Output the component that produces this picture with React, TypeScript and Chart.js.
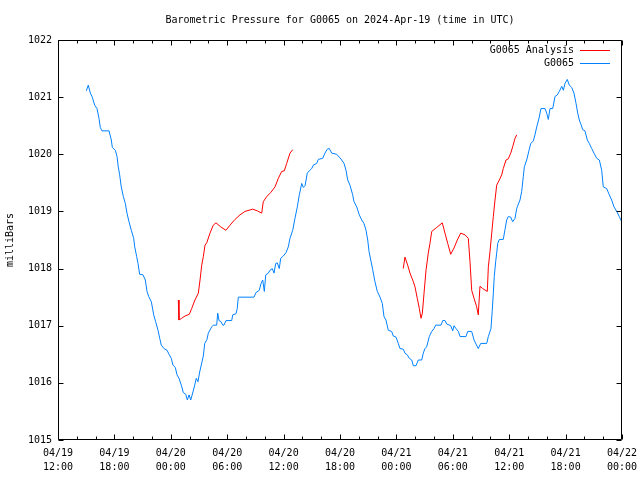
import React, { useEffect, useRef } from 'react';
import { Chart, registerables } from 'chart.js';

Chart.register(...registerables);

// Hours since 04/19 12:00 UTC
const stationHours = [
  3.01, 3.22, 3.44, 3.65, 3.90, 4.15, 4.36, 4.50, 4.68, 5.43, 5.67, 5.78, 6.10, 6.28, 6.41, 6.56, 6.73, 6.95,
  7.16, 7.34, 7.55, 7.80, 8.05, 8.16, 8.37, 8.51, 8.69, 9.04, 9.29, 9.47, 9.65, 9.93, 10.18, 10.39, 10.64,
  10.82, 10.99, 11.28, 11.60, 11.81, 12.05, 12.23, 12.48, 12.66, 12.87, 13.12, 13.33, 13.59, 13.76, 13.94,
  14.12, 14.36, 14.54, 14.71, 14.89, 15.07, 15.24, 15.46, 15.61, 15.85, 15.99, 16.35, 16.52, 16.88, 16.99,
  17.13, 17.34, 17.52, 17.66, 17.87, 18.48, 18.59, 18.94, 19.07, 19.18, 20.85, 21.06, 21.41, 21.60, 21.78,
  21.95, 22.10, 22.37, 22.55, 22.80, 22.98, 23.16, 23.33, 23.54, 23.69, 23.97, 24.26, 24.50, 24.68, 24.97,
  25.21, 25.46, 25.67, 25.93, 26.10, 26.28, 26.52, 26.73, 26.99, 27.16, 27.52, 27.69, 28.16, 28.40, 28.65,
  28.86, 29.12, 29.65, 29.93, 30.18, 30.43, 30.64, 30.82, 31.06, 31.35, 31.49, 31.78, 32.05, 32.31, 32.55,
  32.77, 32.95, 33.09, 33.27, 33.48, 33.72, 33.97, 34.26, 34.50, 34.68, 34.89, 35.14, 35.50, 35.67, 35.96,
  36.20, 36.38, 36.73, 36.91, 37.16, 37.37, 37.63, 37.80, 38.09, 38.33, 38.69, 38.86, 39.04, 39.22, 39.50,
  39.76, 40.00, 40.18, 40.74, 40.93, 41.17, 41.35, 41.78, 41.99, 42.13, 42.34, 42.59, 42.77, 43.40, 43.59,
  44.01, 44.26, 44.47, 44.71, 44.97, 45.61, 45.78, 46.06, 46.20, 46.31, 46.41, 46.56, 46.67, 46.78, 46.95,
  47.37, 47.55, 47.73, 47.90, 48.16, 48.37, 48.62, 48.80, 48.86, 49.15, 49.33, 49.50, 49.61, 49.86, 50.11,
  50.29, 50.56, 50.74, 50.93, 51.17, 51.38, 51.81, 51.99, 52.16, 52.34, 52.63, 52.87, 53.12, 53.33, 53.59,
  53.76, 53.94, 54.18, 54.39, 54.65, 54.89, 55.11, 55.29, 55.46, 55.64, 55.82, 56.06, 56.31, 56.52, 56.78,
  57.02, 57.31, 57.59, 57.84, 58.01, 58.37, 58.65, 58.90, 59.15, 59.44, 59.71, 59.97,
];

const stationValues = [
  1021.11, 1021.21, 1021.07, 1021.0, 1020.86, 1020.8, 1020.63, 1020.47, 1020.41, 1020.41, 1020.25, 1020.12,
  1020.07, 1019.96, 1019.78, 1019.64, 1019.43, 1019.26, 1019.14, 1018.97, 1018.82, 1018.67, 1018.53, 1018.38,
  1018.21, 1018.09, 1017.9, 1017.89, 1017.8, 1017.6, 1017.51, 1017.42, 1017.19, 1017.07, 1016.92, 1016.78,
  1016.66, 1016.6, 1016.57, 1016.5, 1016.43, 1016.31, 1016.27, 1016.14, 1016.08, 1015.96, 1015.83, 1015.8,
  1015.7, 1015.79, 1015.7, 1015.84, 1015.96, 1016.08, 1016.02, 1016.19, 1016.31, 1016.47, 1016.69, 1016.76,
  1016.87, 1016.98, 1017.01, 1017.01, 1017.22, 1017.09, 1017.07, 1017.01, 1017.01, 1017.09, 1017.09, 1017.19,
  1017.21, 1017.3, 1017.5, 1017.5, 1017.58, 1017.62, 1017.74, 1017.8, 1017.6, 1017.89, 1017.92, 1017.97,
  1018.0, 1017.92, 1018.09, 1018.1, 1018.0, 1018.18, 1018.22, 1018.28, 1018.38, 1018.53, 1018.67, 1018.88,
  1019.08, 1019.29, 1019.49, 1019.42, 1019.45, 1019.67, 1019.71, 1019.75, 1019.81, 1019.84, 1019.91, 1019.93,
  1020.02, 1020.09, 1020.1, 1020.02, 1020.0, 1019.95, 1019.9, 1019.84, 1019.72, 1019.55, 1019.46, 1019.29,
  1019.17, 1019.08, 1018.94, 1018.85, 1018.79, 1018.67, 1018.5, 1018.3, 1018.15, 1017.98, 1017.77, 1017.6,
  1017.5, 1017.39, 1017.16, 1017.1, 1016.92, 1016.9, 1016.82, 1016.8, 1016.69, 1016.6, 1016.59, 1016.52,
  1016.49, 1016.43, 1016.4, 1016.3, 1016.3, 1016.4, 1016.4, 1016.52, 1016.6, 1016.63, 1016.81, 1016.9,
  1016.95, 1017.01, 1017.01, 1017.09, 1017.09, 1017.03, 1017.0, 1016.91, 1017.0, 1016.95, 1016.9, 1016.81,
  1016.81, 1016.9, 1016.9, 1016.75, 1016.68, 1016.6, 1016.69, 1016.69, 1016.81, 1016.95, 1017.27, 1017.57,
  1017.86, 1018.12, 1018.27, 1018.44, 1018.51, 1018.51, 1018.68, 1018.85, 1018.91, 1018.9, 1018.82, 1018.88,
  1019.05, 1019.08, 1019.2, 1019.35, 1019.61, 1019.78, 1019.9, 1020.07, 1020.19, 1020.23, 1020.34, 1020.48,
  1020.63, 1020.8, 1020.8, 1020.72, 1020.61, 1020.8, 1020.8, 1021.01, 1021.04, 1021.1, 1021.19, 1021.12,
  1021.24, 1021.31, 1021.21, 1021.17, 1021.07, 1020.89, 1020.72, 1020.6, 1020.52, 1020.43, 1020.41, 1020.25,
  1020.19, 1020.1, 1020.02, 1019.93, 1019.9, 1019.72, 1019.43, 1019.4, 1019.29, 1019.2, 1019.08, 1019.0,
  1018.91, 1018.82,
];

const analysisHours = [
  12.80, 12.87, 13.16, 13.51, 13.97, 14.22, 14.57, 14.93, 15.11, 15.29, 15.46, 15.64, 15.82, 16.17, 16.52,
  16.81, 17.31, 17.87, 18.30, 18.83, 19.36, 19.89, 20.71, 21.20, 21.67, 21.84, 22.20, 22.63, 23.09, 23.44,
  23.80, 24.07, 24.33, 24.68, 24.97,
  30.0,
  36.73, 36.91, 37.20, 37.45, 37.80, 37.98, 38.22, 38.44, 38.62, 38.76, 38.94, 39.15, 39.39, 39.57, 39.76,
  40.29, 40.88, 41.17, 41.46, 41.78, 42.13, 42.48, 42.84, 43.30, 43.65, 43.83, 44.01, 44.26, 44.54, 44.71,
  44.89, 45.18, 45.67, 45.78, 45.96, 46.14, 46.31, 46.49, 46.67, 46.95, 47.20, 47.37, 47.66, 47.90, 48.16,
  48.37, 48.62, 48.80,
];

const analysisValues = [
  1017.45, 1017.1, 1017.13, 1017.17, 1017.2, 1017.3, 1017.45, 1017.57, 1017.8, 1018.06, 1018.21, 1018.41,
  1018.45, 1018.62, 1018.76, 1018.8, 1018.73, 1018.67, 1018.76, 1018.86, 1018.94, 1019.0, 1019.04, 1019.01,
  1018.97, 1019.17, 1019.26, 1019.33, 1019.43, 1019.58, 1019.7, 1019.71, 1019.84, 1020.02, 1020.08,
  null,
  1018.0, 1018.2, 1018.06, 1017.92, 1017.77, 1017.68, 1017.48, 1017.3, 1017.13, 1017.22, 1017.57, 1017.97,
  1018.27, 1018.44, 1018.65, 1018.72, 1018.8, 1018.62, 1018.44, 1018.25, 1018.36, 1018.5, 1018.62, 1018.59,
  1018.53, 1018.12, 1017.62, 1017.48, 1017.33, 1017.19, 1017.69, 1017.65, 1017.6, 1018.03, 1018.3, 1018.62,
  1018.91, 1019.2, 1019.46, 1019.55, 1019.64, 1019.75, 1019.9, 1019.92, 1020.02, 1020.13, 1020.28, 1020.34,
];

const xTickDates = ['04/19', '04/19', '04/20', '04/20', '04/20', '04/20', '04/21', '04/21', '04/21', '04/21', '04/22'];
const xTickTimes = ['12:00', '18:00', '00:00', '06:00', '12:00', '18:00', '00:00', '06:00', '12:00', '18:00', '00:00'];
const yTickValues = [1015, 1016, 1017, 1018, 1019, 1020, 1021, 1022];

const titleText = 'Barometric Pressure for G0065 on 2024-Apr-19 (time in UTC)';
const yTitle = 'milliBars';
const analysisLabel = 'G0065 Analysis';
const stationLabel = 'G0065';

const FONT = '"DejaVu Sans Mono", "Liberation Mono", monospace';
const RED = 'rgb(255,0,0)';
const BLUE = 'rgb(0,128,255)';

const gnuplotFrame = {
  id: 'gnuplotFrame',
  afterDraw(chart: any) {
    const { ctx, chartArea } = chart;
    const xs = chart.scales.x;
    const ys = chart.scales.y;
    const L = Math.round(chartArea.left) + 0.5;
    const R = Math.round(chartArea.right) - 0.5;
    const T = Math.round(chartArea.top) + 0.5;
    const B = Math.round(chartArea.bottom) - 0.5;
    ctx.save();
    ctx.strokeStyle = '#000';
    ctx.lineWidth = 1;
    ctx.beginPath();
    ctx.moveTo(L, T); ctx.lineTo(R, T); ctx.lineTo(R, B); ctx.lineTo(L, B); ctx.closePath();
    // y ticks
    for (const v of yTickValues) {
      const py = Math.round(ys.getPixelForValue(v)) + 0.5;
      ctx.moveTo(L, py); ctx.lineTo(L + 5, py);
      ctx.moveTo(R, py); ctx.lineTo(R - 5, py);
    }
    // x ticks: major every 6h, minor every 2h
    for (let h = 0; h <= 60; h += 2) {
      const px = Math.round(xs.getPixelForValue(h)) + 0.5;
      const len = h % 6 === 0 ? 5 : 3;
      ctx.moveTo(px, B); ctx.lineTo(px, B - len);
      ctx.moveTo(px, T); ctx.lineTo(px, T + len);
    }
    ctx.stroke();

    // title
    ctx.fillStyle = '#000';
    ctx.font = `10px ${FONT}`;
    ctx.textAlign = 'center';
    ctx.textBaseline = 'middle';
    ctx.fillText(titleText, (chartArea.left + chartArea.right) / 2, 20);

    // key
    ctx.textAlign = 'right';
    const rows = chart.data.datasets;
    rows.forEach((ds: any, i: number) => {
      const y = 50 + i * 13;
      ctx.fillText(ds.label, 574, y);
      ctx.strokeStyle = ds.borderColor;
      ctx.beginPath();
      ctx.moveTo(580, y + 0.5);
      ctx.lineTo(610, y + 0.5);
      ctx.stroke();
    });
    ctx.restore();
  },
};

export default function App() {
  const ref = useRef<HTMLCanvasElement | null>(null);
  useEffect(() => {
    if (!ref.current) return;
    const font = { family: FONT, size: 10, lineHeight: 1.4 };
    const chart = new Chart(ref.current, {
      type: 'line',
      data: {
        datasets: [
          {
            label: analysisLabel,
            data: analysisHours.map((h, i) => ({ x: h, y: analysisValues[i] })),
            borderColor: RED,
            borderWidth: 1,
            pointRadius: 0,
            tension: 0,
            spanGaps: false,
          },
          {
            label: stationLabel,
            data: stationHours.map((h, i) => ({ x: h, y: stationValues[i] })),
            borderColor: BLUE,
            borderWidth: 1,
            pointRadius: 0,
            tension: 0,
          },
        ],
      },
      options: {
        responsive: false,
        animation: false,
        events: [],
        layout: { padding: { left: 0, right: 18, top: 40, bottom: 0 } },
        plugins: {
          legend: { display: false },
          tooltip: { enabled: false },
          title: { display: false },
        },
        scales: {
          x: {
            type: 'linear',
            min: 0,
            max: 60,
            afterBuildTicks: (s: any) => {
              s.ticks = xTickDates.map((_, i) => ({ value: i * 6 }));
            },
            afterFit: (s: any) => {
              s.height = 40;
              s.paddingLeft = 0;
              s.paddingRight = 0;
            },
            ticks: {
              autoSkip: false,
              maxRotation: 0,
              minRotation: 0,
              padding: 6,
              color: '#000',
              font,
              callback: (_v: any, i: number) => [xTickDates[i], xTickTimes[i]],
            },
            grid: { display: false, drawTicks: false },
            border: { display: false },
          },
          y: {
            min: 1015,
            max: 1022,
            afterBuildTicks: (s: any) => {
              s.ticks = yTickValues.map((v) => ({ value: v }));
            },
            afterFit: (s: any) => {
              s.width = 58;
              s.paddingTop = 0;
              s.paddingBottom = 0;
            },
            ticks: {
              padding: 6,
              color: '#000',
              font: { family: FONT, size: 10, lineHeight: 1.2 },
              callback: (v: any) => String(v),
            },
            grid: { display: false, drawTicks: false },
            border: { display: false },
            title: {
              display: true,
              text: yTitle,
              color: '#000',
              font: { family: FONT, size: 10, lineHeight: 1.2 },
              padding: { top: 4, bottom: 0 },
            },
          },
        },
      },
      plugins: [gnuplotFrame],
    } as any);
    return () => chart.destroy();
  }, []);
  return (
    <div style={{ position: 'absolute', left: 0, top: 0, width: 640, height: 480, background: '#fff' }}>
      <canvas ref={ref} width={640} height={480} style={{ display: 'block' }} />
    </div>
  );
}
